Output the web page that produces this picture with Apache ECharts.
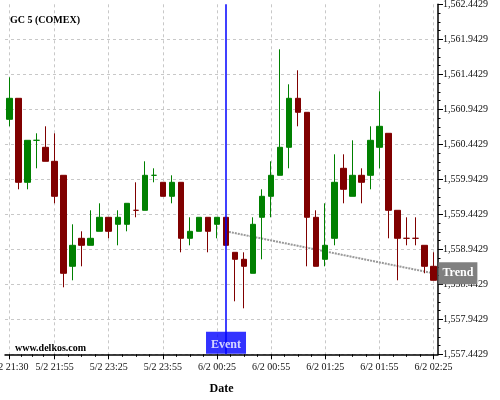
<!DOCTYPE html>
<html>
<head>
<meta charset="utf-8">
<script src="https://cdn.jsdelivr.net/npm/echarts@6/dist/echarts.min.js"></script>
<style>
  html, body { margin: 0; padding: 0; background: #fff; }
  #chart { width: 500px; height: 400px; }
</style>
</head>
<body>
<div id="chart"></div>
<script>
// price axis
const yMin = 1557.4429;
const yMax = 1562.4429;
const yStep = 0.5;

// labelled candles on the date axis
const tickIdx = [0, 5, 11, 17, 23, 29, 35, 41, 47];
const tickLabels = ["5/2 21:30", "5/2 21:55", "5/2 23:25", "5/2 23:55", "6/2 00:25", "6/2 00:55", "6/2 01:25", "6/2 01:55", "6/2 02:25"];

// OHLC, one entry per 5 min candle
const openVals = [1560.8, 1561.1, 1559.9, 1560.5, 1560.4, 1560.2, 1560.0, 1558.7, 1559.1, 1559.0,
  1559.2, 1559.4, 1559.3, 1559.3, 1559.5, 1559.5, 1560.0, 1559.9, 1559.7, 1559.9,
  1559.1, 1559.2, 1559.4, 1559.3, 1559.4, 1558.9, 1558.8, 1558.6, 1559.4, 1559.7,
  1560.0, 1560.4, 1561.1, 1560.9, 1559.4, 1558.8, 1559.1, 1560.1, 1559.7, 1560.0,
  1560.0, 1560.4, 1560.6, 1559.5, 1559.1, 1559.1, 1559.0, 1558.7];
const closeVals = [1561.1, 1559.9, 1560.5, 1560.5, 1560.2, 1559.7, 1558.6, 1559.0, 1559.0, 1559.1,
  1559.4, 1559.2, 1559.4, 1559.6, 1559.5, 1560.0, 1560.0, 1559.7, 1559.9, 1559.1,
  1559.2, 1559.4, 1559.2, 1559.4, 1559.0, 1558.8, 1558.7, 1559.3, 1559.7, 1560.0,
  1560.4, 1561.1, 1560.9, 1559.4, 1558.7, 1559.0, 1559.9, 1559.8, 1560.0, 1559.9,
  1560.5, 1560.7, 1559.5, 1559.1, 1559.1, 1559.1, 1558.7, 1558.5];
const lowVals = [1560.7, 1559.8, 1559.8, 1560.1, 1560.2, 1559.6, 1558.4, 1558.5, 1558.7, 1559.0,
  1559.2, 1559.1, 1559.0, 1559.2, 1559.4, 1559.5, 1559.9, 1559.7, 1559.6, 1558.9,
  1559.0, 1559.2, 1558.9, 1559.1, 1559.0, 1558.2, 1558.1, 1558.6, 1558.8, 1559.4,
  1560.0, 1560.1, 1560.7, 1558.7, 1558.7, 1558.7, 1559.0, 1559.6, 1559.7, 1559.6,
  1559.8, 1560.1, 1559.1, 1558.5, 1559.0, 1559.0, 1558.6, 1558.5];
const highVals = [1561.4, 1561.1, 1560.5, 1560.6, 1560.7, 1560.6, 1560.0, 1559.3, 1559.2, 1559.5,
  1559.6, 1559.4, 1559.5, 1559.6, 1559.9, 1560.2, 1560.1, 1559.9, 1560.0, 1559.9,
  1559.4, 1559.4, 1559.4, 1559.4, 1559.4, 1558.9, 1558.9, 1559.4, 1559.8, 1560.2,
  1561.8, 1561.3, 1561.5, 1560.9, 1559.5, 1559.6, 1560.3, 1560.3, 1560.5, 1560.1,
  1560.7, 1561.2, 1560.6, 1559.5, 1559.4, 1559.4, 1559.0, 1558.9];
// doji candles drawn in the down colour
const downDoji = [14, 44, 45];

// event and trend
const eventIdx = 24;
const trendIdx = [24, 47];
const trendVals = [1559.2, 1558.6];

const UP = "#008000";
const DOWN = "#800000";
const FONT = "'Liberation Serif', 'DejaVu Serif', serif";

const categories = openVals.map((o, i) => String(i));

const candleData = openVals.map((o, i) => {
  const item = { value: [o, closeVals[i], lowVals[i], highVals[i]] };
  if (o === closeVals[i]) {
    const c = downDoji.indexOf(i) >= 0 ? DOWN : UP;
    item.itemStyle = { color: c, color0: c, borderColor: c, borderColor0: c, borderColorDoji: c };
  }
  return item;
});

// three minor ticks between labelled candles
const minorTicks = [];
for (let i = 0; i < tickIdx.length - 1; i++) {
  const a = tickIdx[i], b = tickIdx[i + 1];
  for (let j = 1; j < 4; j++) minorTicks.push(a + (b - a) * j / 4);
}

function fmtPrice(v) {
  const k = Math.round((v - yMin) / yStep);
  return (yMin + k * yStep).toLocaleString("en-US", { minimumFractionDigits: 4, maximumFractionDigits: 4 });
}

const gridLine = { color: "#c8c8c8", type: [3, 3], width: 1 };
const xMin = -0.5;
const xMax = categories.length - 0.5;

const chart = echarts.init(document.getElementById("chart"), null, { renderer: "canvas" });
const option = {
  animation: false,
  backgroundColor: "#fff",
  title: [
    {
      text: "GC 5 (COMEX)",
      left: 10,
      top: 15,
      padding: 0,
      textStyle: { fontFamily: FONT, fontSize: 10, fontWeight: "bold", color: "#000" }
    },
    {
      text: "www.delkos.com",
      left: 15,
      top: 343,
      padding: 0,
      textStyle: { fontFamily: FONT, fontSize: 10, fontWeight: "bold", color: "#000" }
    }
  ],
  grid: { left: 5, right: 62, top: 4.3, bottom: 45.7, containLabel: false, outerBoundsMode: "none" },
  xAxis: [
    {
      // candles
      type: "category",
      data: categories,
      boundaryGap: true,
      axisLine: { show: true, onZero: false, lineStyle: { color: "#000", width: 1.5 } },
      axisTick: { show: false },
      axisLabel: { show: false },
      splitLine: { show: false }
    },
    {
      // labelled ticks, grid and overlays
      type: "value",
      min: xMin,
      max: xMax,
      position: "bottom",
      name: "Date",
      nameLocation: "middle",
      nameGap: 29,
      nameTextStyle: { fontFamily: FONT, fontSize: 12, fontWeight: "bold", color: "#000" },
      axisLine: { show: false, onZero: false },
      axisTick: { show: true, length: 5, customValues: tickIdx, lineStyle: { color: "#000" } },
      axisLabel: {
        customValues: tickIdx,
        margin: 8,
        fontFamily: FONT,
        fontSize: 10,
        color: "#111",
        formatter: v => tickLabels[tickIdx.indexOf(Math.round(v))] || ""
      },
      splitLine: { show: true, lineStyle: gridLine }
    },
    {
      // minor ticks
      type: "value",
      min: xMin,
      max: xMax,
      position: "bottom",
      axisLine: { show: false, onZero: false },
      axisTick: { show: true, length: 2.5, customValues: minorTicks, lineStyle: { color: "#000" } },
      axisLabel: { show: false },
      splitLine: { show: false }
    }
  ],
  yAxis: {
    type: "value",
    position: "right",
    min: yMin,
    max: yMax,
    interval: yStep,
    axisLine: { show: true, onZero: false, lineStyle: { color: "#000", width: 1.5 } },
    axisTick: { show: true, length: 5, lineStyle: { color: "#000" } },
    minorTick: { show: true, splitNumber: 4, length: 2.5, lineStyle: { color: "#000" } },
    axisLabel: { margin: 5, fontFamily: FONT, fontSize: 10, color: "#111", formatter: fmtPrice },
    splitLine: { show: true, showMaxLine: false, lineStyle: gridLine }
  },
  series: [
    {
      name: "Trend",
      type: "line",
      xAxisIndex: 1,
      data: trendIdx.map((x, i) => [x, trendVals[i]]),
      symbol: "none",
      z: 1,
      lineStyle: { color: "#999", width: 2, type: [2, 1] },
      endLabel: {
        show: true,
        formatter: "Trend",
        distance: 5,
        fontFamily: FONT,
        fontSize: 12,
        lineHeight: 14,
        fontWeight: "bold",
        color: "#fff",
        backgroundColor: "#808080",
        padding: [6, 4, 2, 4]
      }
    },
    {
      name: "GC 5",
      type: "candlestick",
      xAxisIndex: 0,
      z: 2,
      barWidth: 6,
      data: candleData,
      itemStyle: {
        color: UP,
        color0: DOWN,
        borderColor: UP,
        borderColor0: DOWN,
        borderWidth: 1
      }
    },
    {
      name: "Event",
      type: "scatter",
      xAxisIndex: 1,
      z: 5,
      clip: false,
      symbolSize: 1,
      itemStyle: { color: "rgba(0,0,0,0)" },
      data: [[eventIdx, yMin]],
      markLine: {
        silent: true,
        symbol: "none",
        label: { show: false },
        lineStyle: { color: "#0000ff", width: 1.5, type: "solid", opacity: 1 },
        data: [{ xAxis: eventIdx }]
      },
      label: {
        show: true,
        position: "top",
        distance: 0,
        formatter: "Event",
        fontFamily: FONT,
        fontSize: 12,
        lineHeight: 14,
        fontWeight: "bold",
        color: "#fff",
        backgroundColor: "#0000ff",
        padding: [6, 5, 2, 5]
      }
    }
  ]
};
chart.setOption(option);
</script>
</body>
</html>
